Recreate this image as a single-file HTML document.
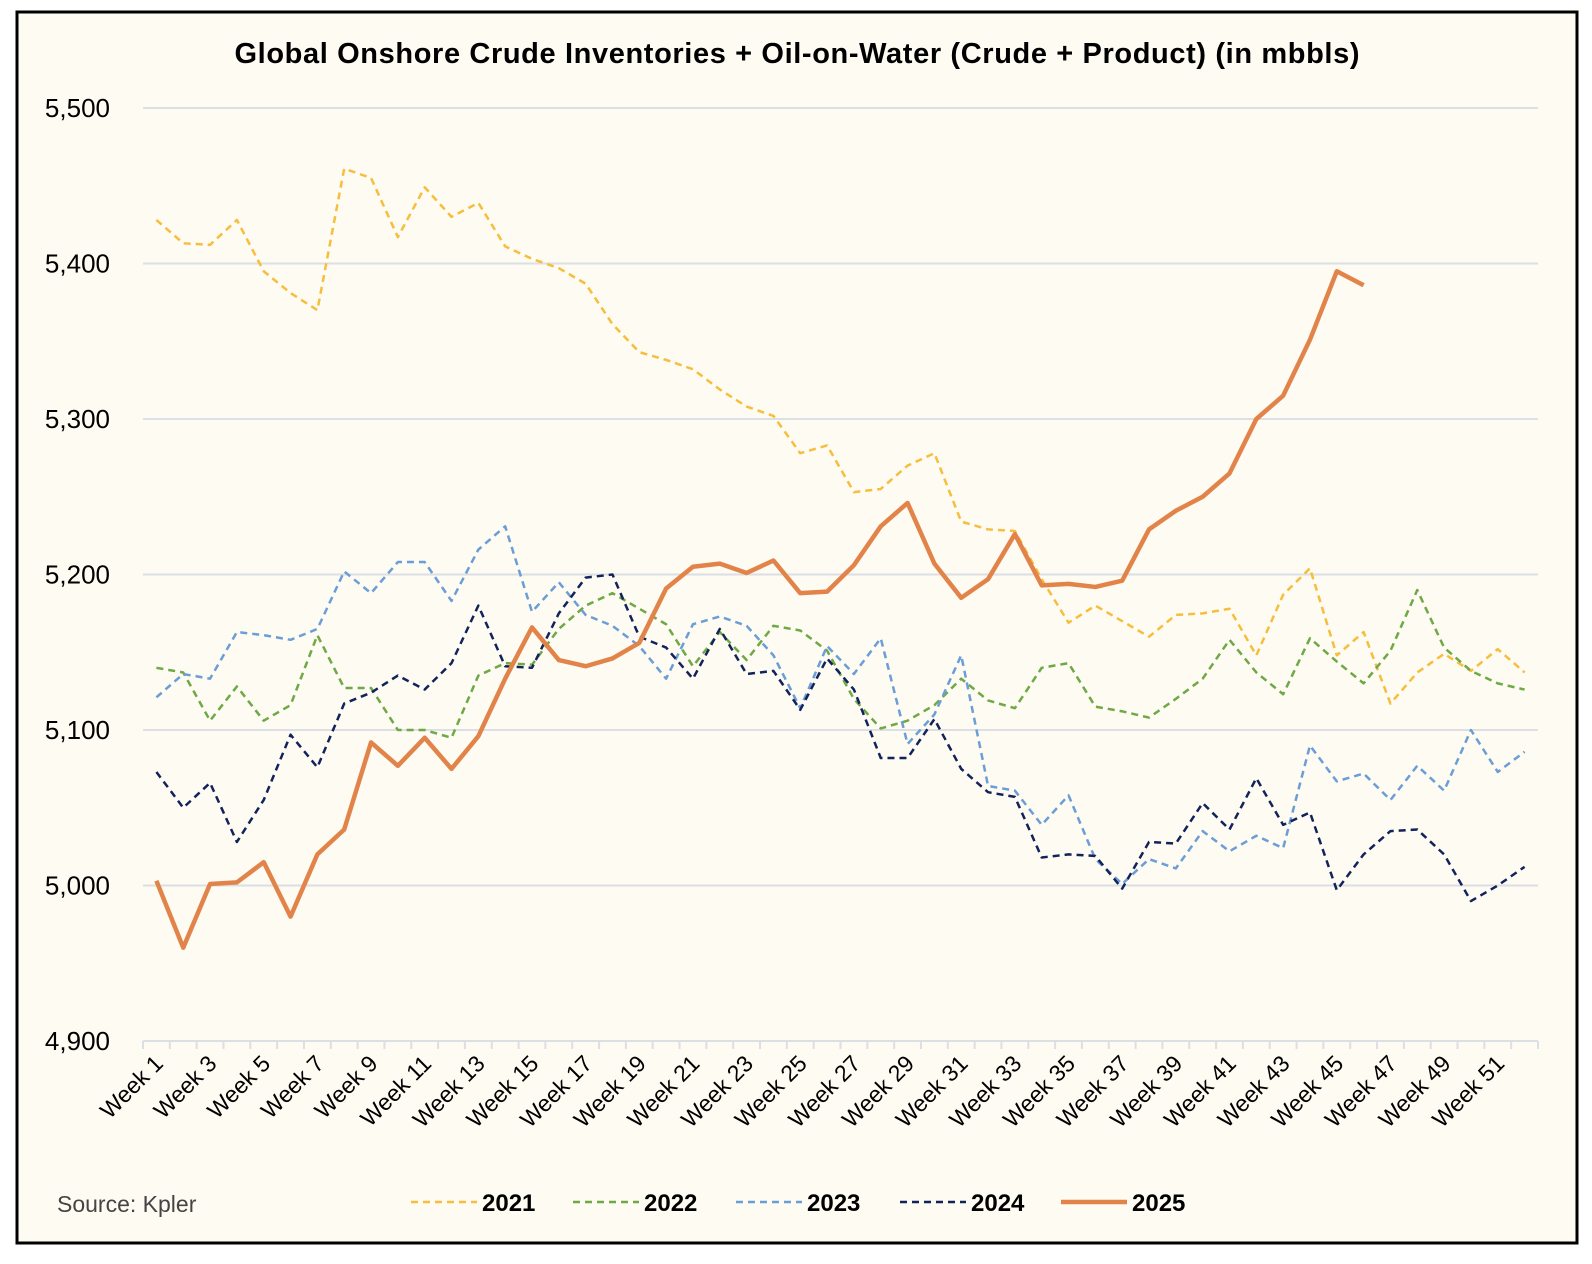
<!DOCTYPE html>
<html><head><meta charset="utf-8"><style>
html,body{margin:0;padding:0;background:#fff;}
svg{display:block;font-family:"Liberation Sans",sans-serif;}
</style></head><body>
<svg id="chart" width="1592" height="1264" xmlns="http://www.w3.org/2000/svg">
<rect x="17" y="12" width="1560" height="1231" fill="#fdfbf2" stroke="#000" stroke-width="3"/>
<text x="797" y="63" text-anchor="middle" font-size="29" font-weight="bold" textLength="1125">Global Onshore Crude Inventories + Oil-on-Water (Crude + Product) (in mbbls)</text>
<g id="grid"></g><g id="yticks"></g><g id="xaxis"></g><g id="series"></g><g id="legend"></g>
<text x="57" y="1212" font-size="23" fill="#444">Source: Kpler</text>
</svg>
<script>
const weeks = Array.from({length:52},(_,i)=>'Week '+(i+1));
const yTicks = [4900,5000,5100,5200,5300,5400,5500];
const seriesNames = ['2021','2022','2023','2024','2025'];
const s2021 = [5428,5413,5412,5428,5395,5381,5370,5461,5455,5417,5449,5430,5439,5411,5403,5397,5387,5361,5343,5338,5332,5319,5308,5302,5278,5283,5253,5255,5270,5278,5234,5229,5228,5197,5169,5180,5170,5160,5174,5175,5178,5148,5187,5204,5148,5163,5117,5137,5149,5138,5152,5137];
const s2022 = [5140,5137,5106,5128,5106,5116,5161,5127,5127,5100,5100,5095,5135,5143,5142,5165,5180,5188,5178,5168,5141,5163,5145,5167,5164,5151,5120,5101,5106,5116,5133,5119,5114,5140,5143,5115,5112,5108,5120,5133,5158,5137,5123,5159,5144,5130,5151,5190,5153,5138,5130,5126];
const s2023 = [5121,5136,5133,5163,5161,5158,5165,5202,5188,5208,5208,5183,5216,5231,5176,5195,5174,5167,5154,5133,5168,5173,5167,5148,5114,5154,5136,5159,5091,5110,5148,5064,5061,5039,5058,5017,5001,5017,5011,5035,5022,5032,5024,5090,5067,5072,5055,5077,5061,5100,5073,5086];
const s2024 = [5073,5050,5066,5028,5055,5097,5076,5117,5124,5135,5126,5143,5180,5141,5140,5175,5198,5200,5160,5153,5133,5165,5136,5138,5113,5146,5126,5082,5082,5107,5075,5060,5057,5018,5020,5019,4998,5028,5027,5053,5036,5069,5039,5047,4997,5020,5035,5036,5020,4990,5000,5012];
const s2025 = [5003,4960,5001,5002,5015,4980,5020,5036,5092,5077,5095,5075,5096,5133,5166,5145,5141,5146,5156,5191,5205,5207,5201,5209,5188,5189,5206,5231,5246,5207,5185,5197,5226,5193,5194,5192,5196,5229,5241,5250,5265,5300,5315,5351,5395,5386];
const NS='http://www.w3.org/2000/svg';
const L=143,R=1538,T=108,B=1041,ymin=4900,ymax=5500;
const bw=(R-L)/weeks.length;
const x=i=>L+bw*(i+0.5);
const y=v=>B-(v-ymin)/(ymax-ymin)*(B-T);
function mk(tag,attrs,parent){const e=document.createElementNS(NS,tag);for(const k in attrs)e.setAttribute(k,attrs[k]);parent.appendChild(e);return e;}
const g=document.getElementById('grid'),yt=document.getElementById('yticks'),xa=document.getElementById('xaxis'),sg=document.getElementById('series'),lg=document.getElementById('legend');
yTicks.forEach(v=>{
  if(v>ymin){const l=mk('line',{x1:L,x2:R,y1:y(v),y2:y(v),stroke:'#dcdfe3','stroke-width':2},g);
  
  }
  const t=mk('text',{x:110,y:y(v)+9,'text-anchor':'end','font-size':26},yt);
  t.textContent=v.toLocaleString('en-US');
  
  
});
const ax=mk('line',{x1:L,x2:R,y1:B,y2:B,stroke:'#dcdfe3','stroke-width':2},xa);


for(let i=0;i<=weeks.length;i++){const tk=mk('line',{x1:L+bw*i,x2:L+bw*i,y1:B,y2:B+8,stroke:'#dcdfe3','stroke-width':2},xa);

}
weeks.forEach((w,i)=>{if(i%2)return;
  const t=mk('text',{x:x(i)+8,y:B+24,'text-anchor':'end','font-size':23,transform:`rotate(-45 ${x(i)+8} ${B+24})`},xa);
  t.textContent=w;
  
  
});
const styles=[{c:'#f6be3c',w:2.5,d:'7 5'},{c:'#6fa845',w:2.5,d:'7 5'},{c:'#6b9dd6',w:2.5,d:'7 5'},{c:'#12225a',w:2.5,d:'7 5'},{c:'#e2844a',w:4.5,d:''}];
[s2021,s2022,s2023,s2024,s2025].forEach((s,k)=>{
  const p=mk('polyline',{points:s.map((v,i)=>x(i)+','+y(v)).join(' '),fill:'none',stroke:styles[k].c,'stroke-width':styles[k].w,'stroke-dasharray':styles[k].d,'stroke-linejoin':'round'},sg);
  
  
});
const legX=[411,573,736,900,1061];
seriesNames.forEach((n,k)=>{
  const l=mk('line',{x1:legX[k],x2:legX[k]+66,y1:1202,y2:1202,stroke:styles[k].c,'stroke-width':styles[k].w,'stroke-dasharray':styles[k].d},lg);
  
  
  const t=mk('text',{x:legX[k]+71,y:1211,'font-size':24,'font-weight':'bold'},lg);
  t.textContent=n;
  
  
});
</script>
</body></html>
